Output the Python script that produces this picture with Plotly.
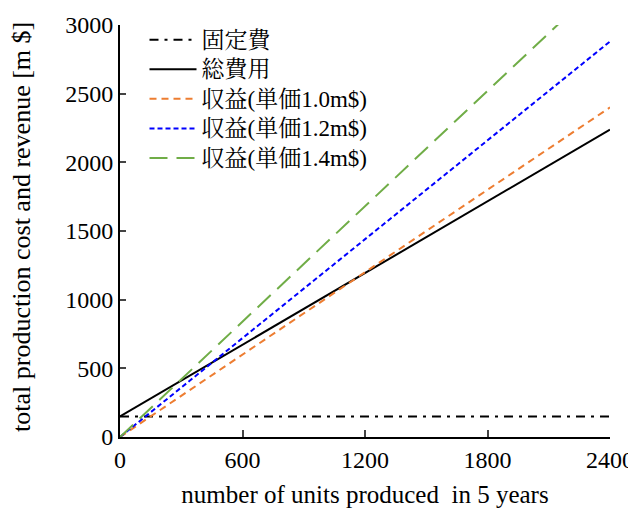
import plotly.graph_objects as go

units = [0, 2400]
fixed_cost = [150, 150]
total_cost = [150, 2238]
revenue_10 = [0, 2400]
revenue_12 = [0, 2880]
revenue_14 = [0, 3360]

names = ["固定費", "総費用", "収益(単価1.0m$)", "収益(単価1.2m$)", "収益(単価1.4m$)"]
series = [fixed_cost, total_cost, revenue_10, revenue_12, revenue_14]
colors = ["#000000", "#000000", "#ED7D31", "#0000FF", "#70AD47"]
dashes = ["9px,6px,3px,6px", "solid", "7px,5px", "5px,3px", "18px,9px"]

y_title = "total production cost and revenue [m $]"
x_title = "number of units produced\u00a0 in 5 years"

fig = go.Figure()
for n, s, c, d in zip(names, series, colors, dashes):
    fig.add_trace(go.Scatter(x=units, y=s, mode="lines",
                             name="<span style='font-size:23px'>" + n + "</span>",
                             line=dict(color=c, width=2, dash=d)))

ff = "Liberation Serif, Noto Serif CJK JP, Noto Sans CJK JP, serif"
# page body has an 8px margin, so the figure is sized/offset to compensate
fig.update_layout(
    width=628, height=500,
    margin=dict(l=112, r=26, t=12, b=71),
    paper_bgcolor="white", plot_bgcolor="white",
    font=dict(family=ff, size=24, color="black"),
    showlegend=True,
    legend=dict(x=0.05, y=1.012, xanchor="left", yanchor="top",
                bgcolor="rgba(0,0,0,0)", font=dict(family=ff, size=20.4, color="black"),
                tracegroupgap=0, itemwidth=47),
    xaxis=dict(range=[0, 2400], tickvals=[0, 600, 1200, 1800, 2400],
               showgrid=False, zeroline=False, showline=True, linecolor="black",
               linewidth=2, ticks="inside", ticklen=7, tickwidth=2,
               automargin=False,
               tickfont=dict(family=ff, size=24, color="black"),
               title=dict(text=x_title,
                          standoff=14, font=dict(family=ff, size=25, color="black"))),
    yaxis=dict(range=[0, 3000], tickvals=[0, 500, 1000, 1500, 2000, 2500, 3000],
               showgrid=False, zeroline=False, showline=True, linecolor="black",
               linewidth=2, ticks="inside", ticklen=6, tickwidth=2,
               automargin=False, ticksuffix="\u00a0\u200a\u00a0",
               tickfont=dict(family=ff, size=24, color="black")),
    annotations=[dict(text=y_title, xref="paper", yref="paper",
                      x=-0.2, y=0.51, xanchor="center", yanchor="middle",
                      textangle=-90, showarrow=False,
                      font=dict(family=ff, size=26, color="black"))],
)
fig.write_html("out.html")
